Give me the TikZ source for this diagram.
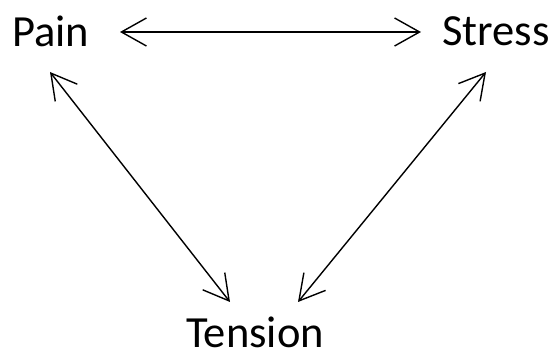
\documentclass[tikz,border=0pt]{standalone}
\usepackage{fontspec}
\setmainfont{Carlito}
\usetikzlibrary{arrows.meta}
\begin{document}
\begin{tikzpicture}[x=1pt,y=1pt,
  lbl/.style={inner sep=0pt,anchor=base west,font=\fontsize{44.5}{50}\selectfont},
  arr/.style={line width=1.4pt,{Straight Barb[length=25pt,width=28pt,line width=1.4pt]}-{Straight Barb[length=25pt,width=28pt,line width=1.4pt]}}]
\useasboundingbox (0,0) rectangle (552,351);
\node[lbl] (pain) at (12,304) {Pain};
\node[lbl] (stress) at (442,305) {Stress};
\node[lbl] (tension) at (186,3) {Tension};
\coordinate (painR) at (120,319);
\coordinate (painB) at (50,279);
\coordinate (stressL) at (421,319);
\coordinate (stressB) at (486,279);
\coordinate (tensionL) at (230,49);
\coordinate (tensionR) at (298,49);
\draw[arr] (painR) -- (stressL);
\draw[arr] (painB) -- (tensionL);
\draw[arr] (stressB) -- (tensionR);
\end{tikzpicture}
\end{document}
